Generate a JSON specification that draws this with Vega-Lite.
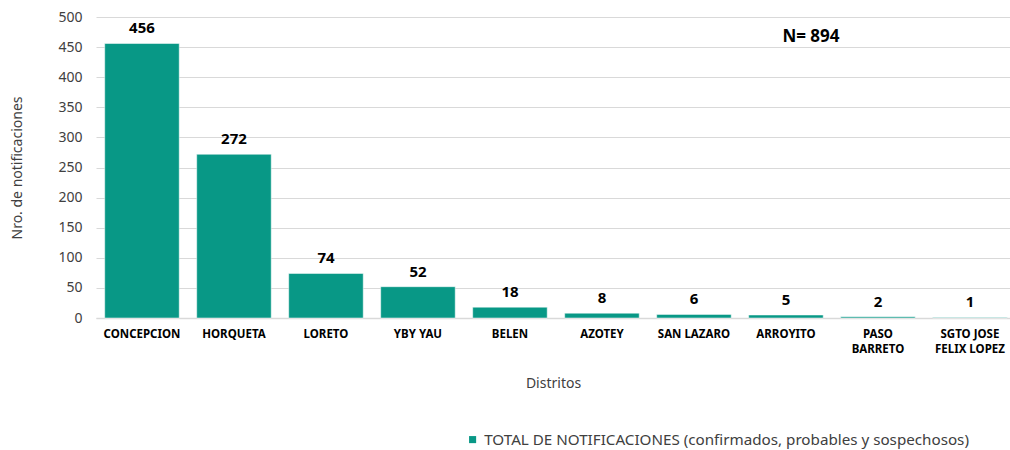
{
  "$schema": "https://vega.github.io/schema/vega-lite/v6.json",
  "width": 914,
  "height": 301,
  "autosize": {"type": "none"},
  "padding": {"left": 96, "top": 17, "right": 0, "bottom": 132},
  "background": "white",
  "config": {
    "font": "Noto Sans",
    "view": {"stroke": null}
  },
  "datasets": {
    "distritos": [
      {"distrito": "CONCEPCION", "n": 456, "serie": "TOTAL DE NOTIFICACIONES (confirmados, probables y sospechosos)"},
      {"distrito": "HORQUETA", "n": 272, "serie": "TOTAL DE NOTIFICACIONES (confirmados, probables y sospechosos)"},
      {"distrito": "LORETO", "n": 74, "serie": "TOTAL DE NOTIFICACIONES (confirmados, probables y sospechosos)"},
      {"distrito": "YBY YAU", "n": 52, "serie": "TOTAL DE NOTIFICACIONES (confirmados, probables y sospechosos)"},
      {"distrito": "BELEN", "n": 18, "serie": "TOTAL DE NOTIFICACIONES (confirmados, probables y sospechosos)"},
      {"distrito": "AZOTEY", "n": 8, "serie": "TOTAL DE NOTIFICACIONES (confirmados, probables y sospechosos)"},
      {"distrito": "SAN LAZARO", "n": 6, "serie": "TOTAL DE NOTIFICACIONES (confirmados, probables y sospechosos)"},
      {"distrito": "ARROYITO", "n": 5, "serie": "TOTAL DE NOTIFICACIONES (confirmados, probables y sospechosos)"},
      {"distrito": "PASO BARRETO", "n": 2, "serie": "TOTAL DE NOTIFICACIONES (confirmados, probables y sospechosos)"},
      {"distrito": "SGTO JOSE FELIX LOPEZ", "n": 1, "serie": "TOTAL DE NOTIFICACIONES (confirmados, probables y sospechosos)"}
    ],
    "anotacion": [
      {"distrito": "ARROYITO", "n": 466, "etiqueta": "N= 894"}
    ]
  },
  "encoding": {
    "x": {
      "field": "distrito",
      "type": "nominal",
      "sort": null,
      "scale": {"paddingInner": 0.19, "paddingOuter": 0.0625, "align": 0.757},
      "axis": {
        "title": "Distritos",
        "titleFontSize": 14,
        "titleFontWeight": "normal",
        "titleColor": "#404040",
        "titlePadding": 22,
        "labelAngle": 0,
        "labelFontSize": 11.5,
        "labelFontWeight": "bold",
        "labelColor": "#000000",
        "labelPadding": 10,
        "labelBaseline": "top",
        "labelLineHeight": 15,
        "labelExpr": "datum.label == 'PASO BARRETO' ? ['PASO', 'BARRETO'] : datum.label == 'SGTO JOSE FELIX LOPEZ' ? ['SGTO JOSE', 'FELIX LOPEZ'] : datum.label",
        "ticks": false,
        "domainColor": "#d9d9d9",
        "domainWidth": 1.5
      }
    },
    "y": {
      "field": "n",
      "type": "quantitative",
      "scale": {"domain": [0, 500]},
      "axis": {
        "title": "Nro. de notificaciones",
        "titleFontSize": 14,
        "titleFontWeight": "normal",
        "titleColor": "#404040",
        "titlePadding": 33,
        "values": [0, 50, 100, 150, 200, 250, 300, 350, 400, 450, 500],
        "labelFontSize": 14,
        "labelColor": "#404040",
        "labelPadding": 14,
        "labelOverlap": false,
        "ticks": false,
        "domain": false,
        "grid": true,
        "gridColor": "#d9d9d9",
        "gridWidth": 1
      }
    }
  },
  "layer": [
    {
      "data": {"name": "distritos"},
      "mark": {"type": "bar", "color": "#089886", "stroke": "#ffffff", "strokeWidth": 0.5},
      "encoding": {
        "color": {
          "field": "serie",
          "type": "nominal",
          "scale": {"range": ["#089886"]},
          "legend": {
            "title": null,
            "orient": "none",
            "legendX": 369,
            "legendY": 415,
            "symbolType": "square",
            "symbolSize": 50,
            "symbolStrokeWidth": 0,
            "labelFontSize": 15.2,
            "labelColor": "#404040",
            "labelOffset": 4,
            "labelLimit": 800
          }
        }
      }
    },
    {
      "data": {"name": "distritos"},
      "mark": {"type": "text", "fontSize": 15, "fontWeight": "bold", "color": "#000000", "baseline": "alphabetic", "dy": -10},
      "encoding": {
        "text": {"field": "n", "type": "quantitative"}
      }
    },
    {
      "data": {"name": "anotacion"},
      "mark": {"type": "text", "fontSize": 17, "fontWeight": "bold", "color": "#000000", "dx": 25, "baseline": "middle"},
      "encoding": {
        "text": {"field": "etiqueta", "type": "nominal"}
      }
    }
  ]
}
